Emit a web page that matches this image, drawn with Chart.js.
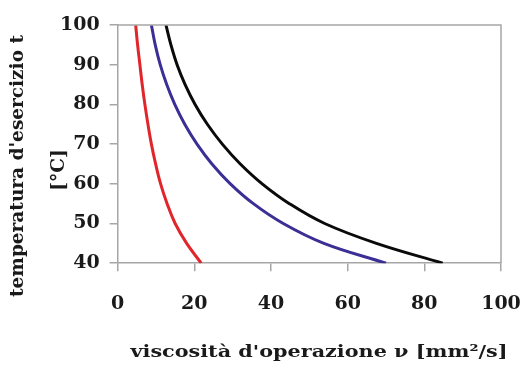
<!DOCTYPE html>
<html>
<head>
<meta charset="utf-8">
<script src="https://cdn.jsdelivr.net/npm/chart.js@4"></script>
<style>
  html, body { margin: 0; padding: 0; background: #fff; }
  #wrap { width: 523px; height: 373px; }
</style>
</head>
<body>
<div id="wrap"><canvas id="viscChart" width="523" height="373"></canvas></div>
<script>
// viscosity (x) vs operating temperature (y)
const temps = [100, 95, 90, 85, 80, 75, 70, 65, 60, 55, 50, 45, 40];
const redVisc = [4.7, 5.2, 5.8, 6.4, 7.1, 7.9, 8.8, 9.9, 11.2, 12.9, 15.0, 18.0, 21.8];
const blueVisc = [8.8, 9.8, 11.1, 12.8, 14.9, 17.5, 20.7, 24.6, 29.4, 35.4, 43.2, 53.8, 70];
const blackVisc = [12.6, 13.9, 15.5, 17.6, 20.2, 23.4, 27.3, 32.0, 37.7, 44.8, 54.0, 67.5, 84.8];
const xTicks = [0, 20, 40, 60, 80, 100];
const yTicks = [40, 50, 60, 70, 80, 90, 100];

const xTitle = 'viscosità d\'operazione ν [mm²/s]';
const yTitle = ['temperatura d\'esercizio t', '[°C]'];

const toPoints = (xs, ys) => xs.map((x, i) => ({ x, y: ys[i] }));

const serif = '"DejaVu Serif", "Liberation Serif", serif';

// frame on top/right plus the two axis titles
const frameAndTitles = {
    id: 'frameAndTitles',
    afterDraw(chart) {
        const { ctx, chartArea } = chart;
        ctx.save();
        ctx.strokeStyle = '#a6a6a6';
        ctx.lineWidth = 1.5;
        ctx.beginPath();
        ctx.moveTo(chartArea.left, chartArea.top);
        ctx.lineTo(chartArea.right, chartArea.top);
        ctx.lineTo(chartArea.right, chartArea.bottom);
        ctx.stroke();

        ctx.fillStyle = '#1a1a1a';
        ctx.textAlign = 'center';
        ctx.textBaseline = 'middle';

        ctx.save();
        ctx.font = 'bold 17px ' + serif;
        ctx.translate(319, 353);
        ctx.scale(1.22, 1);
        ctx.fillText(xTitle, 0, 0);
        ctx.restore();

        ctx.font = 'bold 18.5px ' + serif;
        ctx.translate(18, 166);
        ctx.rotate(-Math.PI / 2);
        ctx.fillText(yTitle[0], 0, 0);
        ctx.fillText(yTitle[1], -4, 41);
        ctx.restore();
    },
};

new Chart(document.getElementById('viscChart'), {
    type: 'scatter',
    data: {
        datasets: [
            { data: toPoints(redVisc, temps), borderColor: '#e0262a' },
            { data: toPoints(blueVisc, temps), borderColor: '#3b2f96' },
            { data: toPoints(blackVisc, temps), borderColor: '#0a0a0a' },
        ].map((d) => ({
            ...d,
            showLine: true,
            borderWidth: 3,
            pointRadius: 0,
            tension: 0.4,
        })),
    },
    options: {
        responsive: false,
        animation: false,
        layout: { padding: { left: 50, right: 0, top: 25, bottom: 37 } },
        plugins: {
            legend: { display: false },
            tooltip: { enabled: false },
        },
        scales: {
            x: {
                type: 'linear',
                min: 0,
                max: 100,
                afterBuildTicks: (scale) => { scale.ticks = xTicks.map((v) => ({ value: v })); },
                afterFit: (scale) => { scale.paddingRight = 22; },
                grid: { drawOnChartArea: false, tickLength: 8, color: '#a6a6a6', lineWidth: 1.5 },
                border: { color: '#a6a6a6', width: 1.5 },
                ticks: { padding: 21, color: '#1a1a1a', font: { family: serif, size: 19, weight: 'bold' } },
            },
            y: {
                min: 40,
                max: 100,
                afterBuildTicks: (scale) => { scale.ticks = yTicks.map((v) => ({ value: v })); },
                grid: { drawOnChartArea: false, tickLength: 8, color: '#a6a6a6', lineWidth: 1.5 },
                border: { color: '#a6a6a6', width: 1.5 },
                ticks: { padding: 10, color: '#1a1a1a', font: { family: serif, size: 19, weight: 'bold' } },
            },
        },
    },
    plugins: [frameAndTitles],
});
</script>
</body>
</html>
